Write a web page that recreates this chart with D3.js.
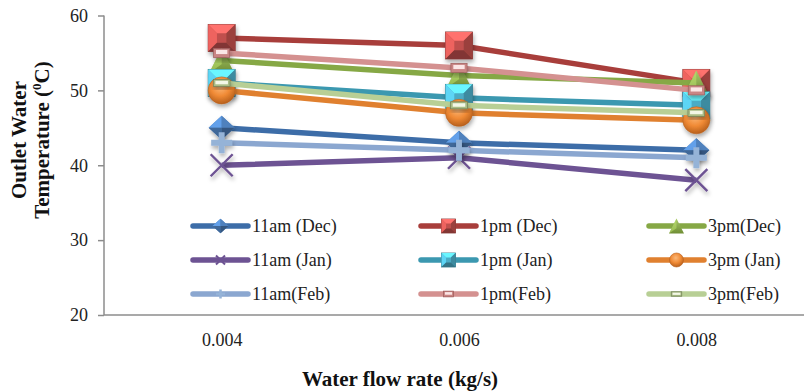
<!DOCTYPE html>
<html>
<head>
<meta charset="utf-8">
<script src="https://cdn.jsdelivr.net/npm/d3@7"></script>
<style>
  html, body { margin: 0; padding: 0; background: #fff; }
  svg { display: block; }
  svg text { font-family: "Liberation Serif", "Times New Roman", serif; }
</style>
</head>
<body>
<svg id="chart" width="804" height="392"></svg>
<script>
// Flow rate categories (kg/s)
const flowRates = ["0.004", "0.006", "0.008"];
const yTicks = [20, 30, 40, 50, 60];

// Outlet water temperature (°C) per time of day and month
const dec11am = [45, 43, 42];
const dec1pm  = [57, 56, 51];
const dec3pm  = [54, 52, 51];
const jan11am = [40, 41, 38];
const jan1pm  = [51, 49, 48];
const jan3pm  = [50, 47, 46];
const feb11am = [43, 42, 41];
const feb1pm  = [55, 53, 50];
const feb3pm  = [51, 48, 47];

const seriesNames = ["11am (Dec)", "1pm (Dec)", "3pm(Dec)",
                     "11am (Jan)", "1pm (Jan)", "3pm (Jan)",
                     "11am(Feb)", "1pm(Feb)", "3pm(Feb)"];
const seriesValues = [dec11am, dec1pm, dec3pm, jan11am, jan1pm, jan3pm, feb11am, feb1pm, feb3pm];

// Styling per series: line colour, marker fill, marker shape
const styles = [
  { line: "#3d6da8", fill: "#4f81bd", shape: "diamond" },
  { line: "#a83e3b", fill: "#c0504d", shape: "square" },
  { line: "#86a845", fill: "#9bbb59", shape: "triangle" },
  { line: "#6d5393", fill: "#7b61a0", shape: "x" },
  { line: "#3b98b0", fill: "#4bacc6", shape: "square" },
  { line: "#e0802f", fill: "#f79646", shape: "circle" },
  { line: "#8ba7d0", fill: "#95b3d7", shape: "plus" },
  { line: "#d49190", fill: "#d99694", shape: "rect" },
  { line: "#b8cf95", fill: "#c3d69b", shape: "flat" }
];

const svg = d3.select("#chart");
const defs = svg.append("defs");

const shadow = defs.append("filter").attr("id", "shadow")
  .attr("x", "-50%").attr("y", "-50%").attr("width", "200%").attr("height", "200%");
shadow.append("feDropShadow").attr("dx", 1).attr("dy", 3)
  .attr("stdDeviation", 2.2).attr("flood-color", "#000").attr("flood-opacity", 0.33);

const circGrad = defs.append("radialGradient").attr("id", "circGrad")
  .attr("cx", "45%").attr("cy", "35%").attr("r", "65%");
circGrad.append("stop").attr("offset", "0%").attr("stop-color", "#fbb879");
circGrad.append("stop").attr("offset", "55%").attr("stop-color", "#f08a35");
circGrad.append("stop").attr("offset", "100%").attr("stop-color", "#b8601c");

const triGrad = defs.append("linearGradient").attr("id", "triGrad")
  .attr("x1", 0).attr("y1", 0).attr("x2", 0).attr("y2", 1);
triGrad.append("stop").attr("offset", "0%").attr("stop-color", "#a9c86a");
triGrad.append("stop").attr("offset", "100%").attr("stop-color", "#6f8e34");

const serif = "'Liberation Serif', 'Times New Roman', serif";

// Scales
const x = d3.scalePoint().domain(flowRates).range([103, 815]).padding(0.5);
const y = d3.scaleLinear().domain([20, 60]).range([315, 15.5]);

// Axes
const yAxis = d3.axisLeft(y).tickValues(yTicks).tickSize(6).tickPadding(10).tickFormat(d3.format("d"));
const gy = svg.append("g").attr("transform", "translate(104,0)").call(yAxis).attr("font-family", null);
gy.select(".domain").attr("stroke", "#8c8c8c").attr("stroke-width", 1.5).attr("d", "M0,15.5V315");
gy.selectAll(".tick line").attr("stroke", "#8c8c8c").attr("stroke-width", 1.5);
gy.selectAll(".tick text").attr("font-size", 18).attr("fill", "#222").style("font-family", serif);

const xAxis = d3.axisBottom(x).tickSize(0).tickPadding(18);
const gx = svg.append("g").attr("transform", "translate(0,315)").call(xAxis).attr("font-family", null);
gx.select(".domain").attr("stroke", "#8c8c8c").attr("stroke-width", 1.5).attr("d", "M104,0H804");
gx.selectAll(".tick text").attr("font-size", 18).attr("fill", "#222").style("font-family", serif);

// Axis titles
svg.append("text").attr("x", 400).attr("y", 386).attr("text-anchor", "middle")
  .attr("font-size", 21).attr("font-weight", "bold").attr("fill", "#111")
  .text("Water flow rate (kg/s)");

svg.append("text").attr("transform", "translate(26,140) rotate(-90)")
  .attr("text-anchor", "middle").attr("font-size", 21).attr("font-weight", "bold").attr("fill", "#111")
  .text("Outlet Water");
const t2 = svg.append("text").attr("transform", "translate(49,140) rotate(-90)")
  .attr("text-anchor", "middle").attr("font-size", 21).attr("font-weight", "bold").attr("fill", "#111");
t2.append("tspan").text("Temperature (");
t2.append("tspan").attr("font-size", 13).attr("dy", -8).text("0");
t2.append("tspan").attr("dy", 8).text("C)");

// Marker drawing
function drawMarker(g, st, s) {
  const h = s / 2;
  const fill = st.fill;
  const dark = d3.color(fill).darker(0.6).formatHex();
  const darker = d3.color(fill).darker(1.1).formatHex();
  const light = d3.color(fill).brighter(0.6).formatHex();
  const lighter = d3.color(fill).brighter(1.0).formatHex();
  if (st.shape === "square") {
    g.append("rect").attr("x", -h).attr("y", -h).attr("width", s).attr("height", s)
      .attr("fill", fill).attr("stroke", darker).attr("stroke-width", 0.8);
    const i = h * 0.35;
    g.append("path").attr("d", `M${-h},${-h}L${h},${-h}L${i},${-i}L${-i},${-i}Z`).attr("fill", lighter);
    g.append("path").attr("d", `M${-h},${-h}L${-i},${-i}L${-i},${i}L${-h},${h}Z`).attr("fill", light);
    g.append("path").attr("d", `M${h},${-h}L${h},${h}L${i},${i}L${i},${-i}Z`).attr("fill", dark);
    g.append("path").attr("d", `M${-h},${h}L${h},${h}L${i},${i}L${-i},${i}Z`).attr("fill", darker);
  } else if (st.shape === "diamond") {
    const w = h, v = h * 0.92;
    g.append("path").attr("d", `M0,${-v}L${w},0L0,${v}L${-w},0Z`).attr("fill", fill);
    g.append("path").attr("d", `M0,${-v}L${-w},0L0,0Z`).attr("fill", light);
    g.append("path").attr("d", `M0,${-v}L${w},0L0,0Z`).attr("fill", fill);
    g.append("path").attr("d", `M${-w},0L0,${v}L0,0Z`).attr("fill", dark);
    g.append("path").attr("d", `M${w},0L0,${v}L0,0Z`).attr("fill", darker);
  } else if (st.shape === "triangle") {
    g.append("path").attr("d", `M0,${-h}L${h},${h}L${-h},${h}Z`).attr("fill", "url(#triGrad)");
    g.append("path").attr("d", `M0,${-h}L${-h},${h}L0,${h * 0.3}Z`).attr("fill", light).attr("opacity", 0.5);
  } else if (st.shape === "circle") {
    g.append("circle").attr("r", h).attr("fill", "url(#circGrad)").attr("stroke", "#b9621f").attr("stroke-width", 0.6);
  } else if (st.shape === "x") {
    g.append("path").attr("d", `M${-h},${-h}L${h},${h}M${h},${-h}L${-h},${h}`)
      .attr("stroke", st.line).attr("stroke-width", Math.max(2, s * 0.11)).attr("fill", "none");
  } else if (st.shape === "plus") {
    g.append("path").attr("d", `M${-h},0H${h}M0,${-h}V${h}`)
      .attr("stroke", fill).attr("stroke-width", s * 0.28).attr("fill", "none");
  } else if (st.shape === "rect") {
    const w = s * 0.3, hh = s * 0.17;
    g.append("rect").attr("x", -w).attr("y", -hh).attr("width", 2 * w).attr("height", 2 * hh)
      .attr("fill", "#c98584").attr("stroke", "#9c5c5b").attr("stroke-width", 0.7);
    g.append("rect").attr("x", -w * 0.7).attr("y", -hh * 0.65).attr("width", w * 1.4).attr("height", hh * 0.9)
      .attr("fill", "#fbe6e6");
  } else if (st.shape === "flat") {
    const w = s * 0.31, hh = s * 0.13;
    g.append("rect").attr("x", -w).attr("y", -hh).attr("width", 2 * w).attr("height", 2 * hh)
      .attr("fill", "#a9bc85").attr("stroke", "#6f7d55").attr("stroke-width", 0.7);
    g.append("rect").attr("x", -w * 0.75).attr("y", -hh * 0.6).attr("width", w * 1.5).attr("height", hh * 1.0)
      .attr("fill", "#f3f7e6");
  }
}

const markerSize = [26, 27, 25, 22, 27, 27, 21, 27, 27];
const legendSize = [16, 14, 15, 9, 14, 14, 9, 17, 17];
const line = d3.line().x((d, i) => x(flowRates[i])).y(d => y(d));

// Series lines and markers, drawn in series order
seriesValues.forEach((vals, k) => {
  const st = styles[k];
  const g = svg.append("g").attr("class", "series");
  g.append("path").datum(vals).attr("d", line).attr("fill", "none")
    .attr("stroke", st.line).attr("stroke-width", 5.5).attr("stroke-linejoin", "round");
  g.selectAll("g.marker").data(vals).join("g").attr("class", "marker")
    .attr("transform", (d, i) => `translate(${x(flowRates[i])},${y(d)})`)
    .attr("filter", "url(#shadow)")
    .each(function () { drawMarker(d3.select(this), st, markerSize[k]); });
});

// Legend: 3 columns x 3 rows
const legCols = [193, 421, 649];
const legRows = [226, 260, 294];
seriesNames.forEach((name, k) => {
  const st = styles[k];
  const cx = legCols[k % 3], cy = legRows[Math.floor(k / 3)];
  const g = svg.append("g").attr("transform", `translate(${cx},${cy})`);
  g.append("line").attr("x1", 0).attr("x2", 55).attr("y1", 0).attr("y2", 0)
    .attr("stroke", st.line).attr("stroke-width", 5.5).attr("stroke-linecap", "round");
  const m = g.append("g").attr("transform", "translate(27.5,0)");
  drawMarker(m, st, legendSize[k]);
  g.append("text").attr("x", 59).attr("y", 6).attr("font-size", 18).attr("fill", "#222").text(name);
});
</script>
</body>
</html>
